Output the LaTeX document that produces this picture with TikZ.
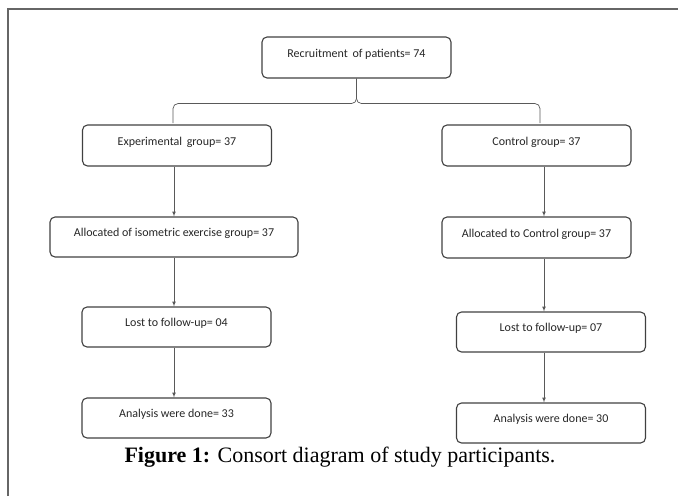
\documentclass[tikz,border=0pt]{standalone}
\usepackage{fontspec}
\setmainfont{Liberation Serif}
\newfontfamily\boxfont{Carlito}
\usetikzlibrary{calc,arrows,positioning}

\begin{document}
\begin{tikzpicture}[x=1pt,y=-1pt,
        box/.style={draw=black!75, line width=1.1pt, rounded corners=5pt,
            minimum width=189pt, minimum height=41pt, inner sep=0pt,
            font=\boxfont\fontsize{12}{14}\selectfont, text=black!85,
            text height=8pt, text depth=9pt},
        link/.style={draw=black!65, line width=0.7pt},
        arr/.style={link, -latex}]
        \useasboundingbox (0,0) rectangle (678,496);
        % frame
        \draw[black!60, line width=1.5pt] (8,496) -- (8,9) -- (678,9);

        \node[box] (rec) at (356.5,57.5) {Recruitment\, of patients= 74};
        \node[box] (exp) at (177,145.5) {Experimental\, group= 37};
        \node[box] (ctl) at (536.5,145.5) {Control group= 37};
        \node[box, minimum width=248pt, minimum height=40pt] (alliso) at (174,237) {Allocated of isometric exercise group= 37};
        \node[box] (allctl) at (536.5,237.5) {Allocated to Control group= 37};
        \node[box, minimum height=40pt] (lost1) at (176.5,327) {Lost to follow-up= 04};
        \node[box, minimum height=40pt] (lost2) at (551,332) {Lost to follow-up= 07};
        \node[box, minimum height=40pt] (ana1) at (176.5,418) {Analysis were done= 33};
        \node[box, minimum height=40pt] (ana2) at (551,423) {Analysis were done= 30};

        % brace
        \coordinate (bl) at (173,123);
        \coordinate (br) at (540,123);
        \coordinate (bm) at ($(rec.south)+(0,25)$);
        \draw[link, rounded corners=5pt] (bl) |- (bm) -- (rec.south);
        \draw[link, rounded corners=5pt] (br) |- (bm) -- (rec.south);

        % arrows
        \draw[arr] (exp.south -| alliso.north) -- (alliso.north);
        \draw[arr] (alliso.south) -- (alliso.south |- lost1.north);
        \draw[arr] (alliso.south |- lost1.south) -- (alliso.south |- ana1.north);
        \coordinate (rx) at (544,0);
        \draw[arr] (ctl.south -| rx) -- (allctl.north -| rx);
        \draw[arr] (allctl.south -| rx) -- (lost2.north -| rx);
        \draw[arr] (lost2.south -| rx) -- (ana2.north -| rx);

        \node (cap) at (340,457) {\fontsize{22}{26}\selectfont\textbf{Figure 1:} Consort diagram of study participants.};
\end{tikzpicture}
\end{document}
